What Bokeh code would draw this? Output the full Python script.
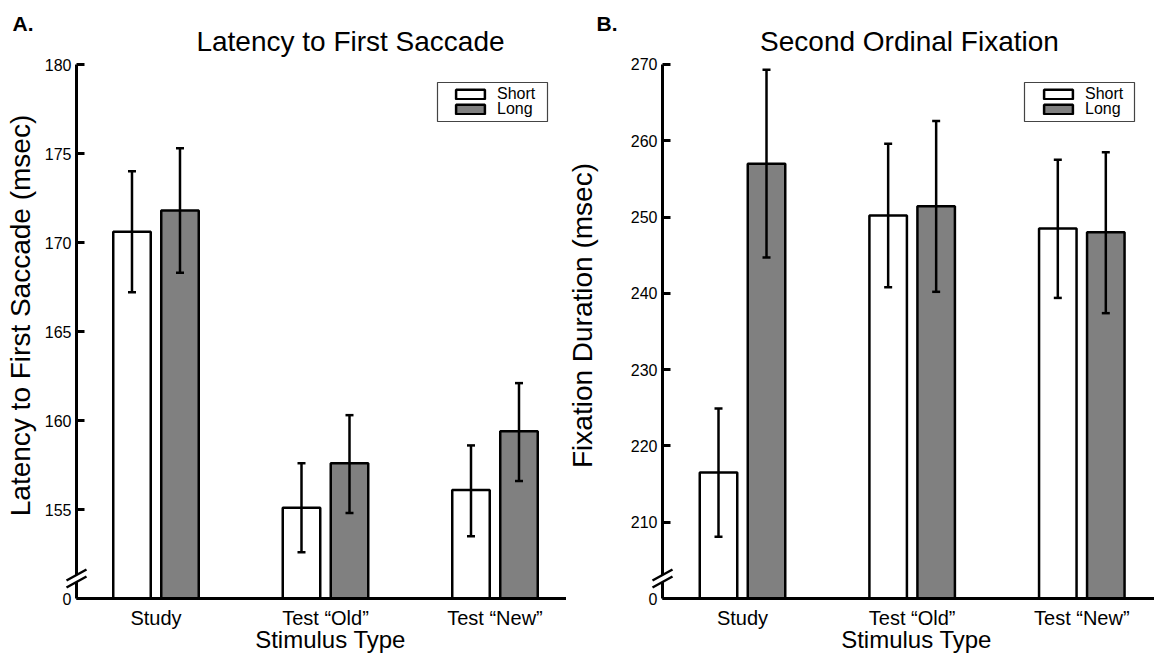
import math
from bokeh.plotting import figure
from bokeh.models import (Range1d, FixedTicker, Whisker, TeeHead, ColumnDataSource,
                          Legend, LegendItem)
from bokeh.layouts import row
from bokeh.core.properties import value
from bokeh.embed import file_html
from bokeh.resources import INLINE

FONT = "Liberation Sans"

# ---------------- data ----------------
categories = ["Study", "Test \u201cOld\u201d", "Test \u201cNew\u201d"]
conditions = ["Short", "Long"]

# Panel A: Latency to First Saccade (msec)
a_short = [170.6, 155.1, 156.1]
a_short_lo = [167.2, 152.6, 153.5]
a_short_hi = [174.0, 157.6, 158.6]
a_long = [171.8, 157.6, 159.4]
a_long_lo = [168.3, 154.8, 156.6]
a_long_hi = [175.3, 160.3, 162.1]
a_ticks = [150, 155, 160, 165, 170, 175, 180]
a_tick_labels = ["0", "155", "160", "165", "170", "175", "180"]

# Panel B: Second Ordinal Fixation duration (msec)
b_short = [216.5, 250.2, 248.5]
b_short_lo = [208.1, 240.8, 239.4]
b_short_hi = [224.9, 259.6, 257.5]
b_long = [257.0, 251.4, 248.0]
b_long_lo = [244.7, 240.2, 237.4]
b_long_hi = [269.3, 262.6, 258.5]
b_ticks = [200, 210, 220, 230, 240, 250, 260, 270]
b_tick_labels = ["0", "210", "220", "230", "240", "250", "260", "270"]

# ---------------- layout (pixels) ----------------
FIG_H = 658
FRAME_TOP = 40
FRAME_BOTTOM = 598
FRAME_H = FRAME_BOTTOM - FRAME_TOP
TXT_SHIFT = 8.5   # rendered alphabetic baseline sits this much lower


def panel(letter, title, ylabel, short, short_lo, short_hi, long_, long_lo, long_hi,
          ticks, tick_labels, fig_w, frame_left, x_start, px_cat, px_unit,
          legend_box, swatch_left, letter_x, title_cx, ylabel_cx, xlabel_cx):
    frame_w = fig_w - frame_left
    y_floor = ticks[0]
    y_end = y_floor + FRAME_H / px_unit
    x_end = x_start + frame_w / px_cat

    def dx(px):
        return x_start + (px - frame_left) / px_cat

    def dy(py):
        return y_floor + (FRAME_BOTTOM - py) / px_unit

    p = figure(width=fig_w, height=FIG_H, output_backend="svg", toolbar_location=None,
               x_range=Range1d(x_start, x_end), y_range=Range1d(y_floor, y_end),
               min_border_left=frame_left, min_border_right=0,
               min_border_top=FRAME_TOP, min_border_bottom=FIG_H - FRAME_BOTTOM,
               background_fill_color="white", border_fill_color="white")
    p.outline_line_color = None
    p.grid.visible = False

    off = 24.0 / px_cat
    bw = 37.5 / px_cat
    xs = list(range(len(categories)))
    src_s = ColumnDataSource(dict(x=[i - off for i in xs], top=short, lo=short_lo, hi=short_hi))
    src_l = ColumnDataSource(dict(x=[i + off for i in xs], top=long_, lo=long_lo, hi=long_hi))
    r_s = p.vbar(x="x", top="top", bottom=y_floor, width=bw, source=src_s,
                 fill_color="white", line_color="black", line_width=2.5)
    r_l = p.vbar(x="x", top="top", bottom=y_floor, width=bw, source=src_l,
                 fill_color="#808080", line_color="black", line_width=2.5)
    for src in (src_s, src_l):
        w = Whisker(base="x", lower="lo", upper="hi", source=src, level="overlay",
                    line_color="black", line_width=2.5,
                    upper_head=TeeHead(size=8, line_width=2.5, line_color="black"),
                    lower_head=TeeHead(size=8, line_width=2.5, line_color="black"))
        p.add_layout(w)

    # axes
    xa = p.xaxis[0]
    xa.ticker = FixedTicker(ticks=xs)
    xa.major_label_overrides = {i: c for i, c in zip(xs, categories)}
    xa.major_tick_line_color = None
    xa.minor_tick_line_color = None
    xa.axis_line_width = 3
    xa.axis_line_color = "black"
    xa.major_label_standoff = 2
    xa.major_label_text_font = FONT
    xa.major_label_text_font_size = "20px"
    xa.major_label_text_color = "black"

    ya = p.yaxis[0]
    ya.ticker = FixedTicker(ticks=ticks)
    ya.major_label_overrides = {t: l for t, l in zip(ticks, tick_labels)}
    ya.bounds = (y_floor, ticks[-1])
    ya.axis_line_width = 3
    ya.axis_line_color = "black"
    ya.major_tick_in = 8
    ya.major_tick_out = 0
    ya.major_tick_line_width = 3
    ya.major_tick_line_color = "black"
    ya.minor_tick_line_color = None
    ya.major_label_standoff = 5
    ya.major_label_text_font = FONT
    ya.major_label_text_font_size = "16px"
    ya.major_label_text_color = "black"

    # axis break marks
    yb = FRAME_BOTTOM - 20.0
    p.segment(x0=[dx(frame_left)], y0=[dy(yb + 3.5)], x1=[dx(frame_left)], y1=[dy(yb - 3.5)],
              line_color="white", line_width=6, level="overlay")
    p.segment(x0=[dx(frame_left - 10)] * 2, y0=[dy(yb - 3.5 + 5.5), dy(yb + 3.5 + 5.5)],
              x1=[dx(frame_left + 10)] * 2, y1=[dy(yb - 3.5 - 5.5), dy(yb + 3.5 - 5.5)],
              line_color="black", line_width=2.5, level="overlay")

    # legend: framed box holding one Bokeh legend entry per condition
    bl, bt, br, bb = legend_box
    p.quad(left=[dx(bl)], right=[dx(br)], top=[dy(bt)], bottom=[dy(bb)],
           fill_color="white", line_color="#444444", line_width=1.2)
    for k, (cond, rend) in enumerate(zip(conditions, (r_s, r_l))):
        swatch_top = bt + 6 + 15 * k
        leg = Legend(items=[LegendItem(label=cond, renderers=[rend])],
                     location=(swatch_left - frame_left, FRAME_BOTTOM - (swatch_top - 3 + 18)),
                     padding=0, spacing=0, margin=0,
                     glyph_width=36, glyph_height=12, label_height=12, label_width=20,
                     label_standoff=9, label_text_font=FONT, label_text_font_size="16px",
                     label_text_color="black",
                     border_line_color=None, background_fill_alpha=0.0)
        p.add_layout(leg)

    # texts (drawn unclipped at overlay level)
    def txt(px, py, s, size, align="center", baseline="alphabetic", angle=0.0, style="normal"):
        p.text(x=[dx(px)], y=[dy(py)], text=[s], text_font=value(FONT),
               text_font_size=size, text_align=align, text_baseline=baseline,
               text_font_style=style, angle=angle, text_color="black", level="overlay")

    txt(letter_x, 31 - TXT_SHIFT, letter, "21px", align="left", style="bold")
    txt(title_cx, 49 - TXT_SHIFT, title, "28px")
    txt(ylabel_cx, 315, ylabel, "28px", baseline="middle", angle=math.pi / 2)
    txt(xlabel_cx, 647 - TXT_SHIFT, "Stimulus Type", "24px")
    return p


SPLIT = 566
pa = panel("A.", "Latency to First Saccade", "Latency to First Saccade (msec)",
           a_short, a_short_lo, a_short_hi, a_long, a_long_lo, a_long_hi,
           a_ticks, a_tick_labels, fig_w=SPLIT, frame_left=76, x_start=-0.469,
           px_cat=169.5, px_unit=17.8, legend_box=(437, 82, 547, 121), swatch_left=452,
           letter_x=12, title_cx=350, ylabel_cx=20, xlabel_cx=330)
pb = panel("B.", "Second Ordinal Fixation", "Fixation Duration (msec)",
           b_short, b_short_lo, b_short_hi, b_long, b_long_lo, b_long_hi,
           b_ticks, b_tick_labels, fig_w=1154 - SPLIT, frame_left=662 - SPLIT, x_start=-0.4716,
           px_cat=169.65, px_unit=7.629,
           legend_box=(1024 - SPLIT, 82, 1134 - SPLIT, 121), swatch_left=1040 - SPLIT,
           letter_x=596 - SPLIT, title_cx=909 - SPLIT, ylabel_cx=582 - SPLIT,
           xlabel_cx=916 - SPLIT)

layout = row(pa, pb, spacing=0)
open("out.html", "w").write(file_html(layout, INLINE))
